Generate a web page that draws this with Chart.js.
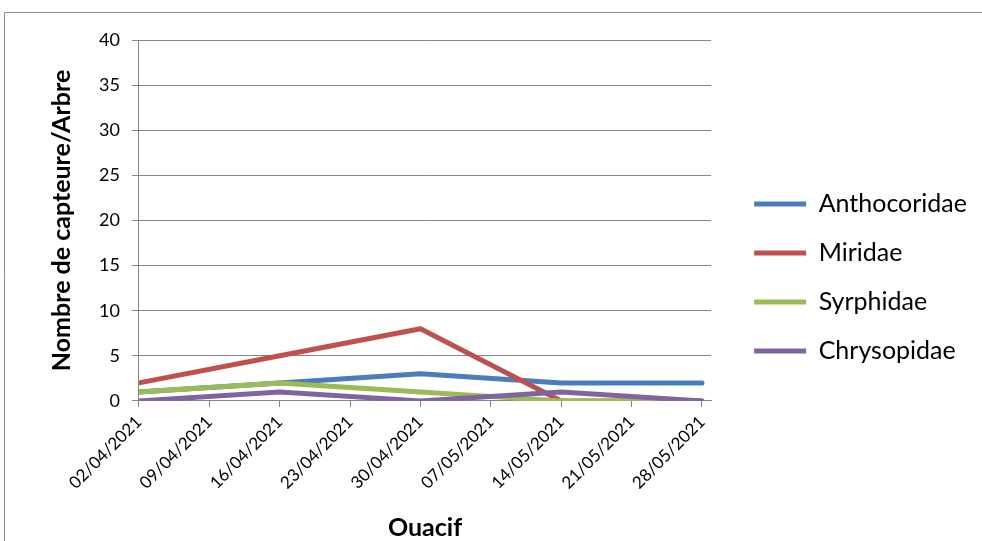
<!DOCTYPE html>
<html><head><meta charset="utf-8">
<script src="https://cdn.jsdelivr.net/npm/chart.js@4/dist/chart.umd.min.js"></script>
<style>html,body{margin:0;padding:0;background:#fff}#wrap{width:982px;height:541px}</style>
</head><body><div id="wrap"><canvas id="c" width="982" height="541"></canvas></div>
<script>
const categories = ["02/04/2021","09/04/2021","16/04/2021","23/04/2021","30/04/2021","07/05/2021","14/05/2021","21/05/2021","28/05/2021"];
const anthocoridae = [1, null, 2, null, 3, null, 2, null, 2];
const miridae      = [2, null, 5, null, 8, null, 0, null, 0];
const syrphidae    = [1, null, 2, null, 1, null, 0, null, 0];
const chrysopidae  = [0, null, 1, null, 0, null, 1, null, 0];
const yTicks = [0,5,10,15,20,25,30,35,40];

const FONT = "Lato, 'Liberation Sans', sans-serif";
const frame = {
  id: 'frame',
  beforeDraw(chart){
    const ctx = chart.ctx;
    ctx.save();
    ctx.fillStyle = '#fff';
    ctx.fillRect(0,0,chart.width,chart.height);
    ctx.strokeStyle = '#8c8c8c';
    ctx.lineWidth = 1;
    ctx.beginPath();
    ctx.moveTo(4.5, 541);
    ctx.lineTo(4.5, 12.5);
    ctx.lineTo(982, 12.5);
    ctx.stroke();
    ctx.restore();
  }
};
function toPoints(arr){
  const pts = [];
  arr.forEach((v,i) => { if (v !== null) pts.push({x: i, y: v}); });
  return pts;
}
function ds(label, data, color, order){
  return {label, data: toPoints(data), borderColor: color, backgroundColor: color, borderWidth: 5,
    pointRadius: 0, pointHoverRadius: 0, tension: 0, order,
    borderCapStyle: 'round', borderJoinStyle: 'round'};
}
new Chart(document.getElementById('c'), {
  type: 'line',
  data: {
    datasets: [
      ds('Anthocoridae', anthocoridae, '#4A7EBB', 4),
      ds('Miridae', miridae, '#C0504D', 3),
      ds('Syrphidae', syrphidae, '#9BBB59', 2),
      ds('Chrysopidae', chrysopidae, '#8064A2', 1)
    ]
  },
  options: {
    responsive: false,
    animation: false,
    devicePixelRatio: 1,
    layout: {padding: {left: 47, top: 40, right: 5, bottom: -2}},
    plugins: {
      tooltip: {enabled: false},
      legend: {
        position: 'right',
        align: 'start',
        maxWidth: 400,
        title: {display: true, text: ' ', font: {size: 10}, padding: {top: 115.5, bottom: 0}},
        labels: {
          usePointStyle: true,
          pointStyle: 'line',
          pointStyleWidth: 52,
          padding: 24,
          color: '#000',
          font: {family: FONT, size: 25},
          sort: (a,b) => a.datasetIndex - b.datasetIndex
        }
      }
    },
    scales: {
      x: {
        type: 'linear',
        min: 0,
        max: 8.13,
        afterBuildTicks(scale){ scale.ticks = categories.map((c,i) => ({value: i})); },
        grid: {display: true, drawOnChartArea: false, drawTicks: true, tickLength: 6, color: '#868686'},
        border: {color: '#868686', width: 1},
        ticks: {color: '#000', font: {family: FONT, size: 17}, maxRotation: 45, minRotation: 45, autoSkip: false, padding: 5,
          callback: (v) => categories[v]},
        title: {display: true, text: 'Ouacif', color: '#000', font: {family: FONT, size: 25, weight: 'bold'}, padding: {top: 15, bottom: 0}}
      },
      y: {
        min: 0, max: 40,
        afterBuildTicks(scale){ scale.ticks = yTicks.map(v => ({value: v})); },
        grid: {color: '#868686', tickLength: 7, lineWidth: 1},
        border: {color: '#868686', width: 1},
        ticks: {color: '#000', font: {family: FONT, size: 18}, padding: 12},
        title: {display: true, text: 'Nombre de capteure/Arbre', color: '#000', font: {family: FONT, size: 25, weight: 'bold'}, padding: {top: 0, bottom: 10}}
      },
      yR: {
        position: 'right',
        display: true,
        min: 0, max: 40,
        grid: {display: false, drawTicks: false},
        border: {display: false},
        ticks: {display: false},
        afterFit(s){ s.width = 19; }
      }
    }
  },
  plugins: [frame]
});
</script>
</body></html>
